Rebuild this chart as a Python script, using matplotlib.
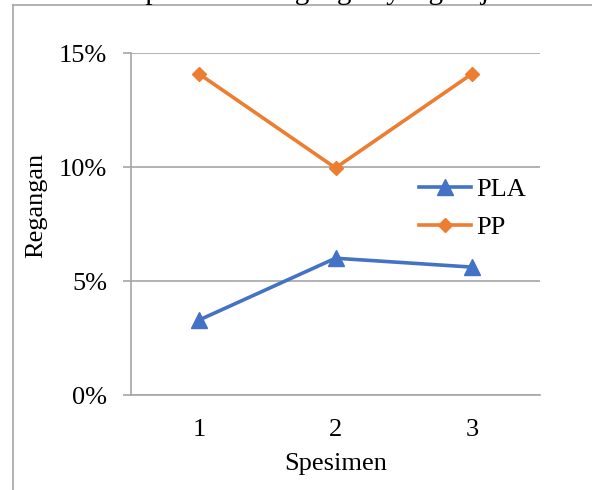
import matplotlib.pyplot as plt
from matplotlib.lines import Line2D
from matplotlib.ticker import FuncFormatter

plt.rcParams['font.family'] = ['Liberation Serif', 'DejaVu Serif']

specimens = ['1', '2', '3']
pla = [0.0329, 0.0600, 0.0561]
pp = [0.1408, 0.0996, 0.1408]
yticks = [0.0, 0.05, 0.10, 0.15]

fs = 19
grey = '#A6A6A6'

fig = plt.figure(figsize=(5.92, 4.90), dpi=100)
ax = fig.add_axes([131 / 592, 1 - 395 / 490, 409 / 592, 342 / 490])

x = [1, 2, 3]
ax.plot(x, pla, color='#4472C4', lw=2.6, marker='^', ms=11, label='PLA')
ax.plot(x, pp, color='#ED7D31', lw=2.6, marker='D', ms=7.5, label='PP')

ax.set_xlim(0.5, 3.5)
ax.set_ylim(0, 0.15)
ax.set_xticks(x)
ax.set_xticklabels(specimens)
ax.set_yticks(yticks)
ax.yaxis.set_major_formatter(FuncFormatter(lambda v, p: '%d%%' % round(v * 100)))
ax.grid(axis='y', color=grey, lw=1.2)
ax.set_axisbelow(True)
for s in ['top', 'right']:
    ax.spines[s].set_visible(False)
for s in ['left', 'bottom']:
    ax.spines[s].set_color(grey)
    ax.spines[s].set_linewidth(1.2)
ax.tick_params(axis='y', length=6, color=grey, width=1.2, pad=11, labelsize=fs)
ax.tick_params(axis='x', length=0, pad=17, labelsize=fs)

ax.set_xlabel('Spesimen', fontsize=fs)
ax.set_ylabel('Regangan', fontsize=fs)
ax.xaxis.set_label_coords(0.5, -0.17)
ax.yaxis.set_label_coords(-0.205, 0.553)

ax.legend(loc='upper left', bbox_to_anchor=(0.645, 0.705), frameon=False,
          fontsize=fs, handlelength=2.0, handletextpad=0.2, labelspacing=0.55)

# chart frame, cut by the page on the right and bottom
fig.add_artist(Line2D([13 / 592, 13 / 592], [0, 1 - 5 / 490], color=grey, lw=1.2))
fig.add_artist(Line2D([13 / 592, 1], [1 - 5 / 490, 1 - 5 / 490], color=grey, lw=1.2))

# caption above, mostly outside the picture
fig.text(62 / 592, 1 + 1 / 490, 'Grafik perbedaan regangan yang terjadi',
         fontsize=21, ha='left', va='baseline')

fig.savefig('out.png', dpi=100)
